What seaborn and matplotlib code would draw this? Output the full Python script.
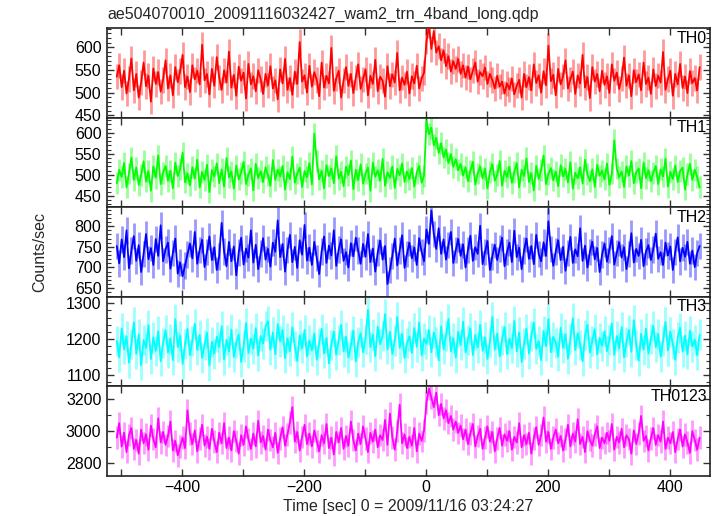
import numpy as np
import pandas as pd
import matplotlib
matplotlib.use("Agg")
import matplotlib.pyplot as plt
from matplotlib.ticker import MultipleLocator, FuncFormatter
import seaborn as sns

# ---------------- data (4 s samples) ----------------
T0 = -507.0   # time of first sample [s]
DT = 4.0      # sample spacing [s]

th0 = [535, 560, 512, 548, 498, 530, 575, 505, 541, 489, 522, 566, 514, 537, 480, 553, 519, 545, 502, 528,
       571, 509, 538, 494, 556, 523, 547, 583, 512, 535, 501, 560, 529, 548, 518, 605, 527, 541, 496, 552,
       515, 578, 533, 506, 549, 522, 590, 511, 539, 493, 557, 526, 544, 487, 563, 518, 536, 503, 549, 530,
       497, 541, 516, 558, 509, 527, 485, 551, 520, 574, 506, 532, 495, 546, 519, 611, 524, 538, 500, 559,
       513, 545, 528, 492, 566, 511, 537, 520, 598, 504, 531, 548, 489, 527, 556, 515, 541, 499, 533, 562,
       508, 529, 551, 494, 537, 519, 572, 503, 535, 526, 491, 558, 514, 540, 522, 587, 505, 533, 517, 546,
       498, 536, 520, 559, 509, 531, 544, 612, 648, 596, 635, 588, 602, 571, 593, 558, 580, 546, 569, 552,
       574, 541, 560, 533, 557, 529, 548, 566, 524, 545, 536, 555, 519, 541, 528, 509, 537, 513, 524, 498,
       520, 507, 531, 496, 515, 528, 489, 541, 512, 534, 505, 562, 521, 538, 500, 547, 516, 603, 525, 539,
       494, 552, 518, 535, 571, 509, 529, 546, 497, 538, 520, 583, 511, 534, 488, 556, 524, 541, 503, 548,
       517, 536, 499, 562, 526, 544, 508, 531, 577, 515, 538, 492, 549, 523, 540, 505, 566, 519, 533, 497,
       551, 514, 537, 522, 589, 506, 530, 548, 493, 541, 518, 563, 510, 535, 499, 547, 521, 532, 505, 556]

th1 = [480, 512, 495, 528, 470, 503, 541, 488, 517, 476, 499, 532, 484, 509, 462, 520, 493, 546, 478, 505,
       521, 486, 510, 468, 529, 497, 514, 553, 482, 503, 475, 518, 491, 536, 470, 507, 488, 524, 459, 511,
       496, 527, 480, 513, 472, 540, 494, 508, 467, 522, 489, 505, 531, 478, 500, 515, 463, 526, 492, 509,
       483, 518, 499, 474, 535, 488, 512, 496, 521, 465, 506, 490, 543, 481, 503, 517, 471, 509, 494, 528,
       477, 598, 532, 489, 510, 468, 523, 497, 515, 480, 544, 491, 507, 473, 519, 500, 534, 466, 512, 488,
       525, 479, 503, 517, 462, 529, 495, 511, 486, 538, 474, 506, 493, 520, 469, 514, 499, 527, 483, 508,
       490, 516, 472, 505, 521, 481, 498, 628, 596, 612, 570, 588, 552, 575, 541, 560, 528, 549, 519, 537,
       511, 526, 498, 518, 485, 509, 531, 477, 503, 520, 492, 514, 468, 507, 525, 486, 499, 533, 474, 510,
       495, 519, 481, 506, 528, 470, 512, 497, 539, 483, 504, 463, 521, 490, 511, 546, 478, 502, 516, 487,
       508, 473, 523, 496, 514, 482, 530, 467, 505, 492, 518, 479, 536, 501, 485, 513, 471, 524, 498, 510,
       489, 527, 476, 503, 582, 515, 494, 508, 471, 520, 498, 533, 480, 506, 515, 468, 529, 492, 511, 485,
       504, 521, 478, 513, 496, 538, 472, 507, 490, 522, 483, 509, 517, 465, 501, 526, 488, 512, 495, 470]

th2 = [752, 710, 768, 725, 790, 698, 741, 776, 716, 754, 689, 733, 781, 720, 747, 706, 769, 728, 802, 715,
       744, 760, 697, 735, 770, 685, 712, 679, 705, 731, 758, 722, 786, 709, 743, 767, 701, 738, 775, 718,
       749, 694, 727, 808, 739, 703, 762, 715, 751, 681, 736, 772, 707, 746, 724, 790, 712, 755, 696, 734,
       771, 719, 745, 702, 760, 738, 814, 725, 757, 690, 742, 779, 713, 750, 699, 766, 731, 803, 717, 748,
       706, 762, 723, 684, 739, 775, 711, 753, 729, 790, 704, 744, 768, 716, 737, 700, 759, 727, 772, 741,
       709, 757, 726, 781, 713, 746, 690, 736, 765, 719, 752, 660, 694, 728, 770, 705, 741, 778, 699, 733,
       760, 722, 748, 706, 771, 738, 715, 792, 757, 838, 781, 745, 795, 733, 768, 719, 754, 786, 711, 742,
       769, 728, 756, 700, 743, 777, 716, 749, 733, 801, 708, 738, 764, 694, 727, 755, 718, 746, 772, 703,
       737, 760, 713, 789, 725, 748, 696, 741, 770, 721, 752, 708, 779, 733, 715, 761, 728, 812, 745, 704,
       739, 766, 718, 750, 692, 735, 774, 711, 744, 727, 795, 716, 753, 700, 738, 762, 720, 747, 689, 731,
       758, 714, 742, 776, 707, 735, 761, 724, 749, 696, 732, 783, 712, 745, 728, 767, 703, 739, 754, 718,
       744, 782, 721, 737, 706, 760, 729, 751, 694, 738, 773, 715, 748, 726, 762, 709, 741, 701, 735, 752]

th3 = [1195, 1150, 1230, 1172, 1208, 1135, 1186, 1247, 1160, 1214, 1128, 1198, 1176, 1239, 1145, 1205, 1168, 1222, 1139, 1190,
       1225, 1163, 1201, 1142, 1256, 1178, 1210, 1131, 1187, 1229, 1156, 1196, 1243, 1170, 1212, 1148, 1184, 1218, 1127, 1193,
       1160, 1207, 1178, 1236, 1144, 1199, 1166, 1227, 1151, 1189, 1213, 1137, 1180, 1245, 1162, 1202, 1174, 1231, 1155, 1209,
       1188, 1236, 1250, 1171, 1219, 1158, 1242, 1194, 1226, 1147, 1203, 1167, 1233, 1181, 1140, 1211, 1175, 1226, 1152, 1197,
       1169, 1216, 1143, 1190, 1229, 1161, 1204, 1133, 1185, 1221, 1157, 1198, 1240, 1166, 1207, 1149, 1183, 1224, 1138, 1192,
       1217, 1164, 1201, 1282, 1178, 1213, 1153, 1235, 1186, 1209, 1270, 1172, 1221, 1159, 1196, 1262, 1176, 1215, 1148, 1189,
       1208, 1162, 1231, 1179, 1247, 1155, 1202, 1187, 1226, 1164, 1219, 1193, 1141, 1236, 1172, 1210, 1256, 1167, 1203, 1149,
       1221, 1184, 1249, 1163, 1198, 1230, 1156, 1212, 1177, 1240, 1168, 1205, 1145, 1193, 1262, 1171, 1216, 1152, 1199, 1234,
       1159, 1202, 1175, 1251, 1166, 1219, 1137, 1188, 1229, 1160, 1208, 1246, 1173, 1195, 1142, 1223, 1181, 1256, 1164, 1207,
       1190, 1153, 1232, 1176, 1214, 1146, 1201, 1258, 1170, 1217, 1185, 1139, 1211, 1240, 1163, 1196, 1228, 1158, 1204, 1182,
       1222, 1167, 1198, 1244, 1157, 1209, 1175, 1234, 1150, 1192, 1226, 1165, 1253, 1183, 1140, 1215, 1171, 1230, 1161, 1200,
       1237, 1178, 1214, 1152, 1196, 1248, 1169, 1221, 1187, 1143, 1205, 1232, 1166, 1210, 1158, 1224, 1180, 1199, 1156, 1213]

th0123 = [2960, 3050, 2905, 2990, 2870, 2975, 3020, 2890, 2945, 2860, 3010, 2925, 2980, 2885, 3035, 2950, 2900, 3080, 2930, 2995,
          2915, 2970, 3060, 2880, 2940, 2850, 2905, 2960, 2895, 3130, 2985, 2920, 3005, 2875, 2955, 3040, 2910, 2965, 2890, 3015,
          2935, 2870, 2990, 2925, 3050, 2895, 2960, 2880, 3000, 2940, 2860, 2975, 2915, 3030, 2950, 2890, 2985, 2905, 3065, 2930,
          2970, 2885, 3010, 2945, 2900, 2990, 2865, 2955, 3025, 2910, 2980, 3055, 3150, 2935, 2995, 2880, 2965, 3040, 2920, 2985,
          2905, 3005, 2940, 2875, 2975, 2925, 3045, 2895, 2960, 2855, 2995, 2930, 3020, 2890, 2970, 2910, 3060, 2945, 2880, 2985,
          2920, 3030, 2955, 2870, 2990, 2935, 3010, 2900, 2975, 2945, 3070, 2915, 3110, 2960, 2885, 3000, 3165, 2925, 2980, 2895,
          2965, 2910, 3020, 2875, 2985, 2940, 3005, 3180, 3265, 3210, 3150, 3240, 3100, 3170, 3080, 3130, 3050, 3095, 3010, 3060,
          2990, 3035, 2950, 3010, 2920, 2985, 3045, 2905, 2970, 3015, 2890, 2960, 3030, 2935, 2995, 2875, 2955, 3020, 2910, 2980,
          2940, 3000, 2885, 2965, 2930, 3050, 2900, 2975, 2920, 2990, 2860, 2955, 3025, 2915, 2975, 3085, 2935, 2995, 2890, 2960,
          3010, 2925, 2970, 2880, 2950, 3040, 2905, 2985, 2935, 3075, 2920, 2965, 2870, 3000, 2945, 2910, 2980, 3030, 2895, 2960,
          2925, 2990, 2940, 3045, 2885, 2965, 2930, 3015, 2900, 2975, 2950, 2860, 3005, 2920, 2985, 3095, 2940, 2970, 2880, 2955,
          3020, 2915, 2975, 2935, 3060, 2890, 2960, 2925, 2995, 2870, 2950, 3010, 2905, 2980, 2930, 2865, 3000, 2945, 2885, 2960]

band_names = ["TH0", "TH1", "TH2", "TH3", "TH0123"]
band_values = [th0, th1, th2, th3, th0123]
band_errors = [28, 26, 32, 42, 70]          # typical 1-sigma error per band
band_ylims = [(445, 642), (423, 636), (629, 846), (1069, 1318), (2721, 3279)]
band_major = [50, 50, 50, 100, 200]
band_minor = [10, 10, 10, 20, 100]
band_colors = ["#ff0000", "#00ff00", "#0000ff", "#00ffff", "#ff00ff"]

title = "ae504070010_20091116032427_wam2_trn_4band_long.qdp"
xlabel = "Time [sec] 0 = 2009/11/16 03:24:27"
ylabel = "Counts/sec"
xlim = (-523, 466)

# ---------------- plotting ----------------
sns.set_theme(style="ticks")
plt.rcParams["font.family"] = ["Liberation Sans", "DejaVu Sans"]
plt.rcParams["axes.unicode_minus"] = True

fig = plt.figure(figsize=(7.17, 5.16), dpi=100)
L, R, TOP, BOT = 107 / 717, 710 / 717, 1 - 28 / 516, 1 - 476 / 516
gs = fig.add_gridspec(5, 1, left=L, right=R, top=TOP, bottom=BOT, hspace=0)

for k in range(5):
    ax = fig.add_subplot(gs[k])
    vals = np.asarray(band_values[k], dtype=float)
    t = T0 + DT * np.arange(len(vals))
    df = pd.DataFrame({"t": t, "rate": vals})
    col = band_colors[k]
    err = band_errors[k]
    ax.vlines(df["t"], df["rate"] - err, df["rate"] + err, colors=col,
              alpha=0.4, linewidth=2.0, zorder=2)
    sns.lineplot(data=df, x="t", y="rate", ax=ax, color=col, linewidth=1.3,
                 zorder=3, estimator=None)
    ax.set_xlim(*xlim)
    ax.set_ylim(*band_ylims[k])
    ax.set_xlabel("")
    ax.set_ylabel("")
    ax.xaxis.set_major_locator(MultipleLocator(100))
    ax.xaxis.set_major_formatter(FuncFormatter(
        lambda v, p: ("\u2212%d" % abs(v) if v < 0 else "%d" % v) if round(v) % 200 == 0 else ""))
    ax.yaxis.set_major_locator(MultipleLocator(band_major[k]))
    ax.yaxis.set_minor_locator(MultipleLocator(band_minor[k]))
    ax.tick_params(axis="both", which="both", direction="in", colors="#333333",
                   labelcolor="black", labelsize=11.5, top=True, right=True, bottom=True, left=True)
    ax.tick_params(axis="both", which="major", length=5, width=1)
    ax.tick_params(axis="y", which="minor", length=3, width=0.8)
    ax.tick_params(axis="y", which="major", pad=4)
    if k < 4:
        ax.tick_params(axis="x", labelbottom=False)
    else:
        ax.tick_params(axis="x", pad=3)
    for s in ax.spines.values():
        s.set_color("#222222")
        s.set_linewidth(1.2)
    ax.set_facecolor("white")
    ax.text(0.995, 0.97, band_names[k], transform=ax.transAxes, ha="right", va="top",
            fontsize=11.5, color="black", zorder=5)

fig.text(L, 1 - 14 / 516, title, ha="left", va="center", fontsize=11.5)
fig.text((L + R) / 2, 1 - 507 / 516, xlabel, ha="center", va="center", fontsize=11.5)
fig.text(40 / 717, 1 - 252 / 516, ylabel, ha="center", va="center", rotation=90, fontsize=11.5)

fig.savefig("out.png", dpi=100, facecolor="white")
